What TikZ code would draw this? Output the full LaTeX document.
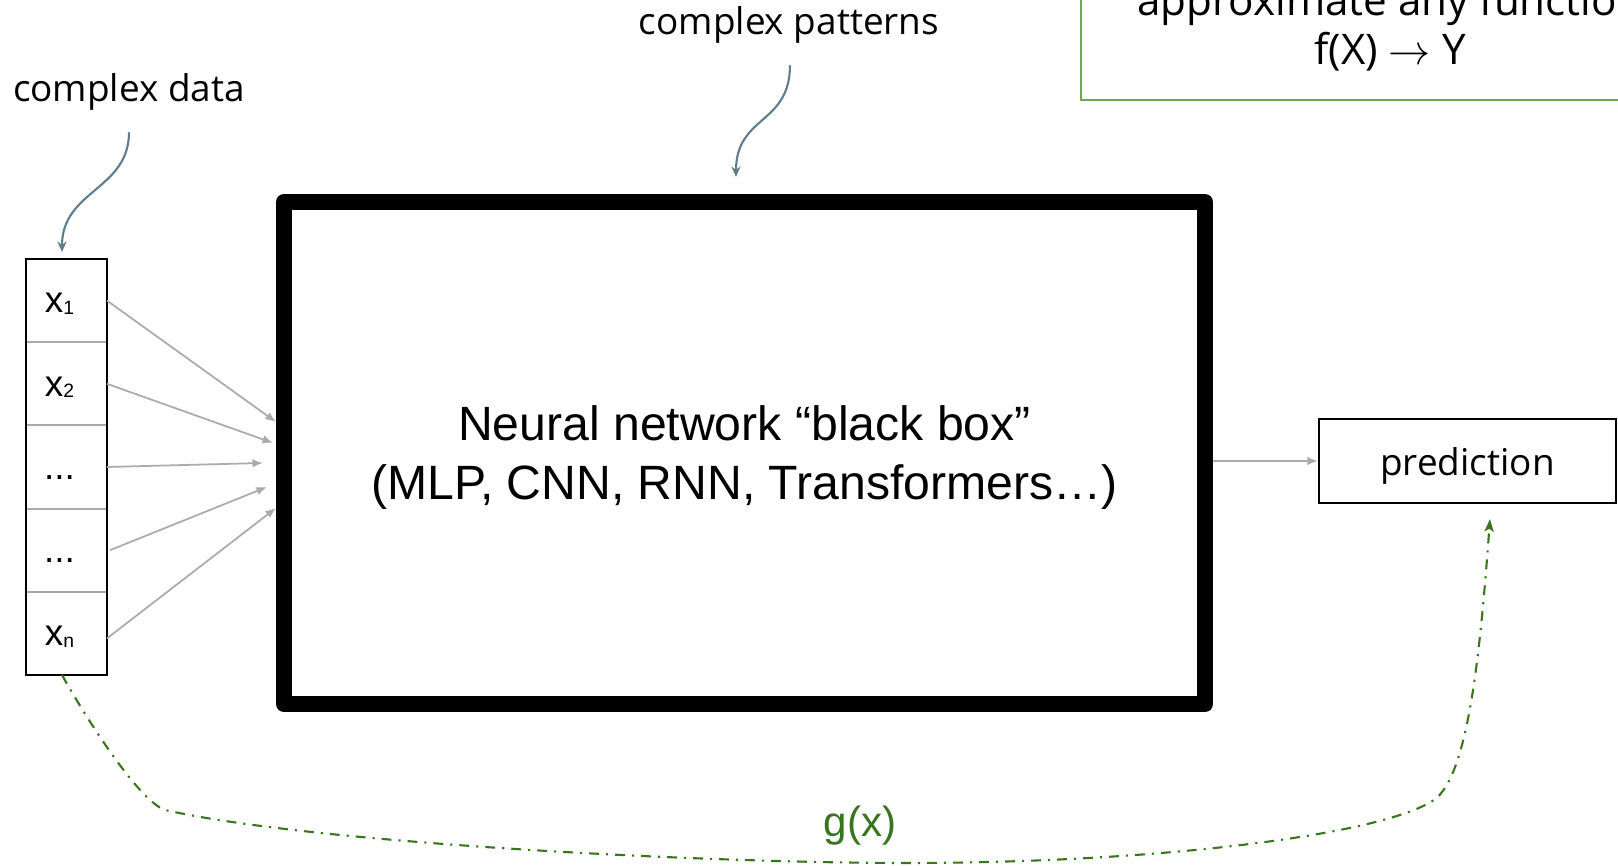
\documentclass[tikz,border=0pt]{standalone}
\usepackage{fontspec}
\setmainfont{Open Sans}
\newfontfamily\arialfont{Liberation Sans}
\usepackage{tikz}
\usetikzlibrary{arrows.meta, positioning}

\definecolor{slate}{HTML}{5F7D8E}
\definecolor{feedgray}{HTML}{ABABAB}
\definecolor{cellgray}{HTML}{AAAAAA}
\definecolor{boxgreen}{HTML}{6AA84F}
\definecolor{darkgreen}{HTML}{38761D}

\newcommand{\xsub}[1]{\raisebox{-0.5pt}{\fontsize{5.5}{6}\selectfont #1}}

\tikzset{
	cell/.style={draw=cellgray, line width=0.6pt, minimum width=0.81cm, minimum height=0.832cm, inner sep=0pt, outer sep=0pt},
	celltext/.style={anchor=base, inner sep=0pt, font=\arialfont\fontsize{10.5}{12}\selectfont},
	note/.style={font=\fontsize{10.5}{12.6}\selectfont},
	feed/.style={draw=feedgray, line width=0.5pt, -{Latex[length=3pt, width=2.4pt]}},
	hint/.style={draw=slate, line width=0.6pt, -{Stealth[length=3pt, width=2.6pt, inset=1pt]}},
	blackbox/.style={draw, line width=0.16cm, line join=round, minimum width=9.21cm, minimum height=5.02cm, inner sep=0pt},
	boxtext/.style={align=center, font=\arialfont\fontsize{13.7}{16.8}\selectfont},
	predbox/.style={draw, line width=0.6pt, minimum width=2.97cm, minimum height=0.84cm, text height=8pt, text depth=0pt, font=\fontsize{10.5}{12.6}\selectfont},
	shortcut/.style={draw=darkgreen, line width=0.6pt, dash pattern=on 2.8pt off 2pt on 0.6pt off 2pt, -{Stealth[length=3.6pt, width=2.6pt, inset=0.8pt]}}
}

\begin{document}
\begin{tikzpicture}
		\useasboundingbox (0, 0) rectangle (16.18, 8.66);
		\clip (0, 0) rectangle (16.18, 8.66);
		
		% green box top right (cut off)
		\draw[boxgreen, line width=0.6pt] (10.81, 7.66) rectangle (16.6, 9.3);
		\node[align=center, font=\fontsize{12}{14}\selectfont] (fxnote) at (13.90, 8.39) {approximate any function\\f(X) $\rightarrow$ Y};
		
		% input column
		\node[cell] (cell1) at (0.665, 5.654) {};
		\node[cell, below=0cm of cell1] (cell2) {};
		\node[cell, below=0cm of cell2] (cell3) {};
		\node[cell, below=0cm of cell3] (cell4) {};
		\node[cell, below=0cm of cell4] (cell5) {};
		\draw[line width=0.6pt] (cell1.north west) rectangle (cell5.south east);
		
		\node[celltext] (lab1) at ([xshift=-0.07cm, yshift=-0.124cm]cell1.center) {x\xsub{1}};
		\node[celltext] (lab2) at ([xshift=-0.07cm, yshift=-0.124cm]cell2.center) {x\xsub{2}};
		\node[celltext] (lab3) at ([xshift=-0.07cm, yshift=-0.124cm]cell3.center) {...};
		\node[celltext] (lab4) at ([xshift=-0.07cm, yshift=-0.124cm]cell4.center) {...};
		\node[celltext] (lab5) at ([xshift=-0.07cm, yshift=-0.124cm]cell5.center) {x\xsub{n}};
		
		% black box + prediction
		\node[blackbox] (nn) at (7.445, 4.13) {};
		\node[boxtext] (nntext) at ([yshift=-0.05cm]nn.center) {Neural network “black box”\\(MLP, CNN, RNN, Transformers…)};
		\node[predbox] (pred) at (14.675, 4.05) {prediction};
		
		% inputs into the box
		\coordinate (in1) at (2.76, 4.44);
		\coordinate (in2) at (2.73, 4.23);
		\coordinate (in3) at (2.63, 4.03);
		\coordinate (in4) at (2.67, 3.79);
		\coordinate (in5) at (2.76, 3.58);
		\draw[feed] (cell1.east) -- (in1);
		\draw[feed] (cell2.east) -- (in2);
		\draw[feed] (cell3.east) -- (in3);
		\draw[feed] ([xshift=0.03cm]cell4.east) -- (in4);
		\draw[feed] ([yshift=-0.05cm]cell5.east) -- (in5);
		\draw[feed] (nn.east |- pred.west) -- (pred.west);
		
		% notes with curved arrows
		\node[note, anchor=base] (datanote) at (1.29, 7.64) {complex data};
		\coordinate (datatip) at (0.62, 6.14);
		\draw[hint] ([yshift=-0.09cm]datanote.south) .. controls (1.29, 6.76) and (0.62, 6.76) .. (datatip);
		
		\node[note, anchor=base] (patnote) at (7.89, 8.31) {complex patterns};
		\coordinate (pattip) at (7.36, 6.89);
		\draw[hint] ([xshift=0.01cm, yshift=-0.09cm]patnote.south) .. controls (7.90, 7.41) and (7.36, 7.51) .. (pattip);
		
		% g(x) shortcut
		\coordinate (gtip) at (14.90, 3.47);
		\draw[shortcut] ([xshift=-0.045cm]cell5.south) .. controls (0.82, 1.55) and (1.37, 0.66) .. (1.65, 0.56)
			.. controls (3.11, 0.23) and (7.00, 0.03) .. (9.08, 0.03)
			.. controls (11.50, 0.03) and (13.80, 0.30) .. (14.34, 0.66)
			.. controls (14.68, 0.90) and (14.80, 2.10) .. (gtip);
		\node[text=darkgreen, font=\arialfont\fontsize{12}{14}\selectfont] (glabel) at (8.60, 0.40) {g(x)};
\end{tikzpicture}
\end{document}
